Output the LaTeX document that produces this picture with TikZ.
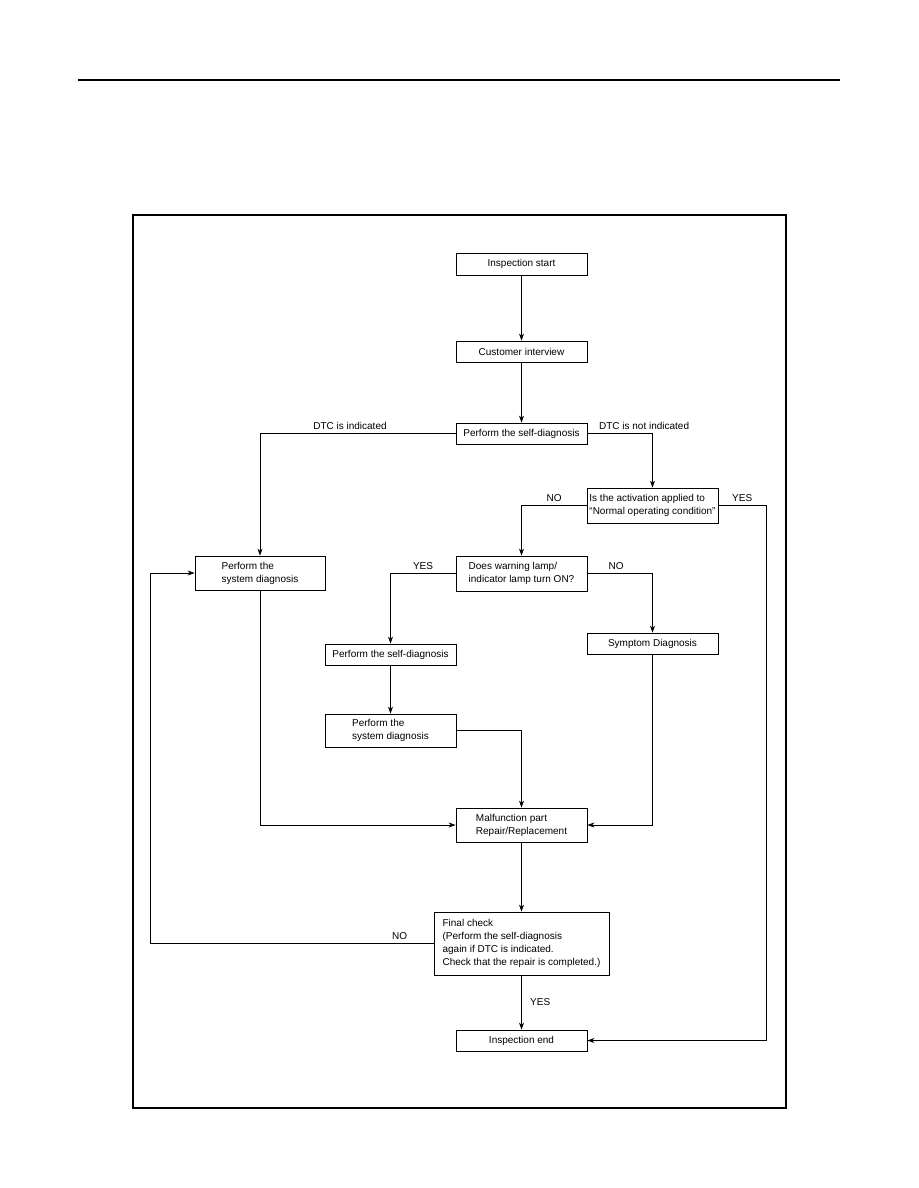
\documentclass[tikz,border=0pt]{standalone}
\usepackage{fontspec}
\setmainfont{Liberation Sans}
\usetikzlibrary{arrows.meta}
\begin{document}
\begin{tikzpicture}[x=1pt, y=-1pt, font=\fontsize{10}{13}\selectfont, line join=miter, >={Stealth[length=7pt,width=5pt]},
	box/.style={draw, line width=.8pt, minimum width=131pt, minimum height=21pt, inner sep=0pt, align=left},
	flow/.style={->, line width=.7pt}]
	\useasboundingbox (0,0) rectangle (918,1188);
	%\draw[color=gray!50,dashed] (0,0) grid[step=50] (918,1188);
	\draw[line width=2.6pt] (78,80)--(840,80);
	\draw[line width=1.1pt] (133,215) rectangle (786,1108);
	\draw[line width=2.2pt] (133,215)--(786,215);
	% boxes
	\node[box, minimum height=22pt] (start) at (521.5,264) {Inspection start};
	\node[box] (interview) at (521.5,351.5) {Customer interview};
	\node[box] (diagA) at (521.5,433.5) {Perform the self-diagnosis};
	\node[box, minimum height=35pt] (activ) at (652.5,505.5) {Is the activation applied to\\“Normal operating condition”};
	\node[box, minimum width=130pt, minimum height=34pt] (sysA) at (260,573) {Perform the\\system diagnosis};
	\node[box, minimum height=35pt] (lamp) at (521.5,573.5) {Does warning lamp/\\indicator lamp turn ON?};
	\node[box] (diagB) at (390.5,654.5) {Perform the self-diagnosis};
	\node[box] (symptom) at (652.5,643.5) {Symptom Diagnosis};
	\node[box, minimum height=33pt] (sysB) at (390.5,730.5) {Perform the\\system diagnosis};
	\node[box, minimum height=34pt] (repair) at (521.5,825) {Malfunction part\\Repair/Replacement};
	\node[box, minimum width=175pt, minimum height=63pt] (final) at (521.5,943.5) {Final check\\(Perform the self-diagnosis\\again if DTC is indicated.\\Check that the repair is completed.)};
	\node[box] (end) at (521.5,1040.5) {Inspection end};
	\coordinate (yesR) at (766,505.5);
	\coordinate (backL) at (150,943.5);
	% connectors
	\draw[flow] (start)--(interview);
	\draw[flow] (interview)--(diagA);
	\draw[flow] (diagA.west)-|node[above, pos=.27]{DTC is indicated}(sysA.north);
	\draw[flow] (diagA.east)-|node[pos=0, anchor=south west, xshift=8pt]{DTC is not indicated}(activ.north);
	\draw[flow] (activ.west)-|node[above, pos=.25]{NO}(lamp.north);
	\draw[flow] (activ.east)--node[above]{YES}(yesR)|-(end.east);
	\draw[flow] (lamp.west)-|node[above, pos=.25]{YES}(diagB.north);
	\draw[flow] (lamp.east)-|node[above, pos=.22]{NO}(symptom.north);
	\draw[flow] (diagB)--(sysB);
	\draw[flow] (sysB.east)-|(repair.north);
	\draw[flow] (sysA.south)|-(repair.west);
	\draw[flow] (symptom.south)|-(repair.east);
	\draw[flow] (repair)--(final);
	\draw[flow] (final.west)--node[above, pos=.12]{NO}(backL)|-(sysA.west);
	\draw[flow] (final)--node[right, xshift=5pt]{YES}(end);
\end{tikzpicture}
\end{document}
